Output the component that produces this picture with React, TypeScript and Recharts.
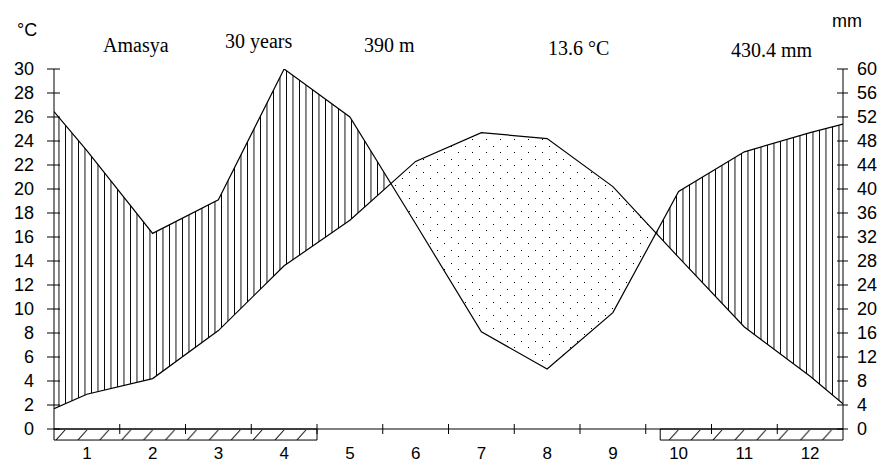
import React from 'react';
import { ComposedChart, Line, Area, XAxis, YAxis, ReferenceArea } from 'recharts';

// month labels on the x axis, and the x positions of the plotted points
// (0.5 and 12.5 are the values drawn on the two axis edges)
const months = [1, 2, 3, 4, 5, 6, 7, 8, 9, 10, 11, 12];
const positions = [0.5, 1, 2, 3, 4, 5, 6, 7, 8, 9, 10, 11, 12, 12.5];

// °C, left axis
const temperature = [1.7, 2.9, 4.2, 8.2, 13.6, 17.4, 22.3, 24.7, 24.2, 20.2, 14.3, 8.5, 4.4, 2.1];
// mm, right axis
const precipitation = [52.9, 46.4, 32.6, 38.2, 60.0, 52.0, 34.2, 16.2, 10.0, 19.4, 39.6, 46.2, 49.4, 50.8];

const tempTicks = [0, 2, 4, 6, 8, 10, 12, 14, 16, 18, 20, 22, 24, 26, 28, 30];
const precTicks = [0, 4, 8, 12, 16, 20, 24, 28, 32, 36, 40, 44, 48, 52, 56, 60];

// frost periods (bars under the axis)
const frostStart = [0.5, 9.72];
const frostEnd = [4.5, 12.5];

const SANS = "'Liberation Sans', Arial, sans-serif";
const SERIF = "'Liberation Serif', 'Times New Roman', serif";

const data = positions.map((m, i) => ({ m, temp: temperature[i], prec: precipitation[i] }));

// fills between the two curves: precipitation in °C units (2 mm = 1 °C),
// with the points where the curves cross added so the fill stops there
const fillData: { m: number; humid: number[]; dry: number[] }[] = [];
positions.forEach((m, i) => {
  const t = temperature[i];
  const p = precipitation[i] / 2;
  fillData.push({ m, humid: [t, Math.max(t, p)], dry: [p, Math.max(t, p)] });
  if (i < positions.length - 1) {
    const d0 = p - t;
    const d1 = precipitation[i + 1] / 2 - temperature[i + 1];
    if (d0 * d1 < 0) {
      const f = d0 / (d0 - d1);
      const cm = m + f * (positions[i + 1] - m);
      const cv = t + f * (temperature[i + 1] - t);
      fillData.push({ m: cm, humid: [cv, cv], dry: [cv, cv] });
    }
  }
});

const xTicks = months.flatMap((m) => (m < 12 ? [m, m + 0.5] : [m]));

const MonthTick = (props: any) => {
  const { x, y, payload } = props;
  const v = payload.value;
  if (Number.isInteger(v)) {
    return (
      <text x={x} y={y + 24} textAnchor="middle" dominantBaseline="central" fontFamily={SANS} fontSize={17} fill="#000">
        {v}
      </text>
    );
  }
  return <line x1={x} x2={x} y1={y - 5} y2={y + 5} stroke="#000" />;
};

const LeftTick = (props: any) => {
  const { x, y, payload } = props;
  return (
    <g>
      <line x1={x - 7} x2={x + 6} y1={y} y2={y} stroke="#000" />
      <text x={x - 20} y={y} textAnchor="end" dominantBaseline="central" fontFamily={SANS} fontSize={18} fill="#000">
        {payload.value}
      </text>
    </g>
  );
};

const RightTick = (props: any) => {
  const { x, y, payload } = props;
  return (
    <g>
      <line x1={x - 6} x2={x + 5} y1={y} y2={y} stroke="#000" />
      <text x={x + 14} y={y} textAnchor="start" dominantBaseline="central" fontFamily={SANS} fontSize={18} fill="#000">
        {payload.value}
      </text>
    </g>
  );
};

export default function App() {
  return (
    <div style={{ position: 'absolute', left: 0, top: 0 }}>
      <ComposedChart width={885} height={462} data={data} margin={{ top: 69, right: 0, bottom: 0, left: 0 }}>
        <defs>
          <pattern id="vhatch" width="6.5" height="10" patternUnits="userSpaceOnUse">
            <line x1="0.5" y1="0" x2="0.5" y2="10" stroke="#000" strokeWidth="1" shapeRendering="crispEdges" />
          </pattern>
          <pattern id="dots" width="14" height="13" patternUnits="userSpaceOnUse">
            <rect x="3" y="3" width="1" height="1" fill="#000" />
            <rect x="10" y="9" width="1" height="1" fill="#000" />
          </pattern>
          <pattern id="slash" x="54" y="429" width="21.9" height="11" patternUnits="userSpaceOnUse">
            <line x1="2" y1="11" x2="11" y2="1" stroke="#000" strokeWidth="1" />
          </pattern>
        </defs>

        <XAxis
          xAxisId="m"
          dataKey="m"
          type="number"
          domain={[0.5, 12.5]}
          allowDataOverflow
          ticks={xTicks}
          interval={0}
          height={33}
          tickSize={0}
          tickMargin={0}
          axisLine={{ stroke: '#000' }}
          tickLine={false}
          tick={<MonthTick />}
        />
        <YAxis
          yAxisId="t"
          orientation="left"
          width={54}
          domain={[0, 30]}
          allowDataOverflow
          ticks={tempTicks}
          interval={0}
          tickSize={0}
          tickMargin={0}
          axisLine={{ stroke: '#000' }}
          tickLine={false}
          tick={<LeftTick />}
        />
        <YAxis
          yAxisId="p"
          orientation="right"
          width={42}
          domain={[0, 60]}
          allowDataOverflow
          ticks={precTicks}
          interval={0}
          tickSize={0}
          tickMargin={0}
          axisLine={{ stroke: '#000' }}
          tickLine={false}
          tick={<RightTick />}
        />

        <Area
          xAxisId="m"
          yAxisId="t"
          data={fillData}
          dataKey="humid"
          type="linear"
          stroke="none"
          fill="url(#vhatch)"
          fillOpacity={1}
          isAnimationActive={false}
        />
        <Area
          xAxisId="m"
          yAxisId="t"
          data={fillData}
          dataKey="dry"
          type="linear"
          stroke="none"
          fill="url(#dots)"
          fillOpacity={1}
          isAnimationActive={false}
        />

        <Line
          xAxisId="m"
          yAxisId="t"
          dataKey="temp"
          type="linear"
          stroke="#000"
          strokeWidth={1.2}
          dot={false}
          isAnimationActive={false}
        />
        <Line
          xAxisId="m"
          yAxisId="p"
          dataKey="prec"
          type="linear"
          stroke="#000"
          strokeWidth={1.2}
          dot={false}
          isAnimationActive={false}
        />

        {frostStart.map((s, i) => (
          <ReferenceArea
            key={i}
            xAxisId="m"
            yAxisId="t"
            x1={s}
            x2={frostEnd[i]}
            y1={-0.92}
            y2={0}
            ifOverflow="visible"
            fill="url(#slash)"
            fillOpacity={1}
            stroke="#000"
            strokeWidth={1}
          />
        ))}

        <text x={17} y={36} fontFamily={SANS} fontSize={18} fill="#000">°C</text>
        <text x={832} y={27} fontFamily={SANS} fontSize={18} fill="#000">mm</text>
        <text x={103} y={52} fontFamily={SERIF} fontSize={20} fill="#000">Amasya</text>
        <text x={225} y={48} fontFamily={SERIF} fontSize={20} fill="#000">30 years</text>
        <text x={364} y={52} fontFamily={SERIF} fontSize={20} fill="#000">390 m</text>
        <text x={548} y={55} fontFamily={SERIF} fontSize={20} fill="#000">13.6 °C</text>
        <text x={731} y={57} fontFamily={SERIF} fontSize={20} fill="#000">430.4 mm</text>
      </ComposedChart>
    </div>
  );
}
